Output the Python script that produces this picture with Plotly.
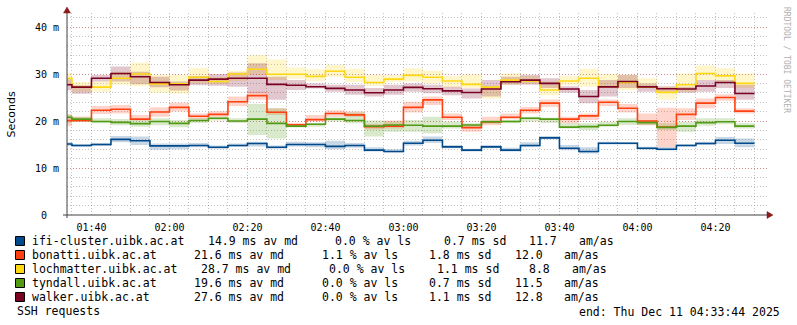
import plotly.graph_objects as go
import pandas as pd

# ---------------- data (5-minute steps, first starts 01:30) ----------------
START = "2025-12-11 01:30:00"
STEP = "5min"
N = 36

hosts = ["ifi-cluster.uibk.ac.at", "bonatti.uibk.ac.at", "lochmatter.uibk.ac.at",
         "tyndall.uibk.ac.at", "walker.uibk.ac.at"]
colors = ["#004a8c", "#ff4010", "#ffd814", "#509a14", "#7a0024"]

ifi_md = [15.1, 14.8, 15.0, 16.1, 15.8, 14.7, 14.7, 14.8, 14.4, 14.8, 15.2, 14.4,
          15.0, 15.0, 14.6, 14.8, 13.8, 13.5, 15.25, 15.9, 14.5, 13.8, 14.5, 13.8,
          14.8, 16.4, 14.2, 13.5, 15.25, 15.25, 14.2, 14.0, 14.8, 15.2, 15.9, 15.25]
ifi_lo = [14.7, 14.5, 14.7, 15.5, 14.9, 13.9, 14.0, 14.4, 14.1, 14.5, 14.6, 14.1,
          14.6, 14.4, 14.0, 14.3, 13.5, 13.3, 14.8, 15.3, 14.2, 13.5, 14.2, 13.5,
          14.4, 16.1, 13.8, 13.1, 15.0, 15.0, 13.9, 13.7, 14.6, 14.9, 15.1, 14.4]
ifi_hi = [15.5, 15.1, 15.3, 16.8, 16.7, 15.2, 15.2, 15.3, 14.8, 15.2, 15.6, 14.8,
          15.6, 15.5, 15.8, 15.3, 14.4, 14.0, 15.8, 16.7, 14.9, 14.1, 14.9, 14.3,
          15.5, 16.8, 14.9, 14.4, 15.6, 15.5, 14.5, 14.4, 15.1, 15.6, 16.6, 16.3]

bon_md = [20.1, 20.1, 22.3, 22.5, 20.4, 21.9, 22.9, 21.0, 21.4, 24.1, 25.4, 21.85,
          19.2, 20.3, 21.6, 21.3, 18.8, 18.9, 22.9, 24.5, 20.8, 18.6, 19.8, 20.8,
          22.3, 23.8, 20.4, 21.1, 24.0, 22.7, 20.0, 18.7, 21.4, 23.8, 25.0, 22.1]
bon_lo = [18.9, 19.8, 21.5, 21.6, 20.1, 20.9, 22.0, 20.35, 20.9, 23.2, 24.5, 21.3,
          18.8, 19.9, 20.9, 20.9, 18.2, 18.4, 21.8, 23.4, 20.2, 17.7, 19.1, 20.35,
          21.6, 23.0, 19.5, 20.2, 23.2, 21.8, 19.1, 14.4, 20.2, 22.7, 24.3, 21.6]
bon_hi = [21.3, 20.9, 23.2, 23.4, 21.3, 22.9, 23.9, 21.6, 22.1, 25.2, 26.2, 22.7,
          19.6, 21.3, 22.3, 22.0, 19.4, 20.1, 24.1, 25.2, 21.6, 19.1, 20.9, 21.6,
          23.0, 24.6, 20.9, 21.6, 24.6, 23.6, 21.6, 22.8, 22.7, 24.8, 25.7, 22.7]

loc_md = [29.1, 27.3, 27.2, 29.1, 30.0, 27.9, 27.9, 29.3, 28.4, 30.0, 31.0, 29.95,
          29.95, 29.5, 30.6, 29.3, 28.2, 28.9, 29.7, 29.3, 28.5, 27.8, 27.2, 28.7,
          28.5, 26.6, 28.5, 29.1, 27.3, 28.2, 27.2, 26.1, 27.7, 30.1, 29.6, 28.0]
loc_lo = [27.8, 26.2, 26.2, 27.7, 27.4, 26.0, 25.8, 28.0, 27.8, 28.5, 29.8, 28.7,
          29.0, 28.5, 29.4, 28.3, 27.5, 28.3, 28.4, 28.0, 27.2, 27.0, 24.8, 27.7,
          27.9, 25.5, 27.7, 27.3, 27.0, 26.6, 27.0, 24.5, 26.2, 28.7, 28.4, 27.0]
loc_hi = [30.2, 28.3, 28.4, 30.5, 32.4, 29.8, 29.8, 31.3, 29.4, 30.7, 34.0, 33.1,
          31.4, 31.0, 31.9, 31.1, 29.8, 29.8, 31.2, 30.7, 29.6, 29.9, 27.5, 30.1,
          29.6, 28.4, 29.6, 31.1, 30.0, 29.8, 29.1, 27.3, 30.1, 31.8, 31.2, 30.1]

tyn_md = [20.8, 20.4, 19.9, 19.7, 19.45, 19.9, 19.5, 20.1, 20.6, 20.0, 20.4, 19.5,
          18.9, 19.3, 20.4, 20.1, 18.9, 19.15, 19.1, 18.9, 18.9, 19.15, 19.85, 19.9,
          20.6, 20.4, 18.7, 18.8, 19.1, 19.9, 19.65, 18.65, 18.9, 19.65, 19.85, 18.9]
tyn_lo = [19.6, 19.8, 19.5, 19.1, 18.8, 19.1, 18.65, 19.6, 20.1, 19.6, 17.0, 16.3,
          18.6, 18.8, 19.9, 19.5, 16.7, 17.7, 17.7, 17.4, 18.4, 18.8, 19.4, 19.5,
          19.9, 19.6, 18.4, 18.1, 18.8, 19.15, 19.15, 18.1, 17.7, 19.0, 19.3, 18.4]
tyn_hi = [21.5, 20.9, 20.6, 20.4, 20.2, 20.6, 20.2, 20.6, 20.9, 20.6, 23.6, 22.7,
          19.3, 19.6, 20.8, 21.8, 20.1, 19.9, 20.2, 20.9, 19.9, 19.5, 20.2, 20.2,
          20.9, 20.7, 19.5, 19.5, 19.85, 20.6, 20.2, 19.5, 19.85, 20.6, 20.6, 19.5]

wal_md = [27.7, 27.2, 29.1, 30.1, 29.4, 28.2, 27.7, 28.7, 28.9, 29.1, 29.1, 27.8,
          27.6, 27.3, 26.95, 26.6, 26.0, 26.6, 27.15, 26.85, 26.4, 26.05, 26.8, 28.35,
          28.7, 28.0, 26.8, 25.2, 27.25, 28.4, 27.25, 26.85, 26.8, 27.45, 28.2, 25.85]
wal_lo = [26.5, 25.8, 28.4, 28.4, 27.8, 27.2, 26.5, 27.6, 27.5, 27.3, 25.9, 24.5,
          26.6, 26.9, 26.2, 25.6, 25.2, 25.6, 26.2, 25.9, 25.5, 24.8, 25.2, 27.7,
          27.7, 27.0, 26.0, 23.8, 25.2, 27.0, 26.2, 26.2, 26.0, 26.2, 27.0, 24.5]
wal_hi = [28.9, 27.6, 29.8, 31.6, 30.5, 29.4, 28.4, 29.6, 30.0, 30.3, 32.3, 29.4,
          28.7, 28.0, 27.7, 27.7, 27.0, 27.7, 28.0, 27.7, 27.3, 26.9, 28.7, 29.4,
          29.8, 29.1, 27.4, 26.6, 28.7, 29.8, 28.0, 27.4, 27.3, 28.7, 28.7, 27.7]

legend_md = ["14.9 ms av md", "21.6 ms av md", "28.7 ms av md", "19.6 ms av md", "27.6 ms av md"]
legend_ls = ["0.0 % av ls", "1.1 % av ls", "0.0 % av ls", "0.0 % av ls", "0.0 % av ls"]
legend_sd = ["0.7 ms sd", "1.8 ms sd", "1.1 ms sd", "0.7 ms sd", "1.1 ms sd"]
legend_am = ["11.7", "12.0", "8.8", "11.5", "12.8"]

y_tickvals = [0, 10, 20, 30, 40]
y_ticktext = ["0\u00a0\u00a0", "10 m", "20 m", "30 m", "40 m"]

medians = [ifi_md, bon_md, loc_md, tyn_md, wal_md]
lows = [ifi_lo, bon_lo, loc_lo, tyn_lo, wal_lo]
highs = [ifi_hi, bon_hi, loc_hi, tyn_hi, wal_hi]

# ---------------- geometry helpers (pixel -> paper) ----------------
W, H = 797, 325
L, R, T, B = 67, 769, 13, 215
def px(x):
    return (x - L) / (R - L)
def py(y):
    return (B - y) / (B - T)

times = pd.date_range(START, periods=N + 1, freq=STEP)

def rgba(hexc, a):
    h = hexc.lstrip("#")
    r, g, b = int(h[0:2], 16), int(h[2:4], 16), int(h[4:6], 16)
    return f"rgba({r},{g},{b},{a})"

fig = go.Figure()

# bands
for name, col, lo, hi in zip(hosts, colors, lows, highs):
    fig.add_trace(go.Scatter(x=times, y=lo + [lo[-1]], mode="lines",
                             line=dict(width=0, shape="hv"), hoverinfo="skip",
                             showlegend=False))
    fig.add_trace(go.Scatter(x=times, y=hi + [hi[-1]], mode="lines",
                             line=dict(width=0, shape="hv"), fill="tonexty",
                             fillcolor=rgba(col, 0.22), hoverinfo="skip",
                             showlegend=False))
# median lines
for name, col, md in zip(hosts, colors, medians):
    fig.add_trace(go.Scatter(x=times, y=md + [md[-1]], mode="lines", name=name,
                             line=dict(width=1.6, color=col, shape="hv"),
                             showlegend=False))

mono = "DejaVu Sans Mono"
grid_minor = "rgba(143,143,143,0.55)"
grid_major = "rgba(222,80,80,0.5)"

fig.update_layout(
    width=W, height=H,
    margin=dict(l=L, r=W - R, t=T, b=H - B, pad=0),
    paper_bgcolor="white", plot_bgcolor="white",
    showlegend=False,
    xaxis=dict(
        type="date",
        range=["2025-12-11 01:33:44", "2025-12-11 04:33:44"],
        tick0="2025-12-11 01:40:00", dtick=20 * 60 * 1000,
        tickformat="%H:%M",
        ticks="outside", ticklen=3, tickcolor="rgba(0,0,0,0)",
        tickfont=dict(family=mono, size=10, color="black"),
        showgrid=True, gridcolor=grid_major, griddash="1px,2px", gridwidth=1,
        minor=dict(dtick=5 * 60 * 1000, showgrid=True, gridcolor=grid_minor,
                   griddash="1px,2px", gridwidth=1, ticks=""),
        showline=False, zeroline=False, fixedrange=True,
    ),
    yaxis=dict(
        range=[0, (B - T) / 4.7],
        tickvals=y_tickvals, ticktext=y_ticktext,
        ticks="outside", ticklen=5, tickcolor="rgba(0,0,0,0)",
        tickfont=dict(family=mono, size=10, color="black"),
        showgrid=True, gridcolor=grid_major, griddash="1px,2px", gridwidth=1,
        minor=dict(dtick=2, showgrid=True, gridcolor=grid_minor,
                   griddash="1px,2px", gridwidth=1, ticks=""),
        showline=False, zeroline=False, fixedrange=True,
    ),
)

shapes = []
axis_col = "#404040"
arrow_col = "#8b1a1a"
# axes
shapes.append(dict(type="line", xref="paper", yref="paper",
                   x0=px(63), x1=px(768), y0=py(215), y1=py(215),
                   line=dict(color=axis_col, width=1)))
shapes.append(dict(type="line", xref="paper", yref="paper",
                   x0=px(67), x1=px(67), y0=py(218), y1=py(12),
                   line=dict(color=axis_col, width=1)))
# arrows
shapes.append(dict(type="path", xref="paper", yref="paper",
                   path=f"M {px(767)} {py(211.5)} L {px(773)} {py(215)} L {px(767)} {py(218.5)} Z",
                   fillcolor=arrow_col, line=dict(color=arrow_col, width=0.5)))
shapes.append(dict(type="path", xref="paper", yref="paper",
                   path=f"M {px(63.5)} {py(13)} L {px(67)} {py(7)} L {px(70.5)} {py(13)} Z",
                   fillcolor=arrow_col, line=dict(color=arrow_col, width=0.5)))

annotations = []
row_y = [241, 255, 269, 283, 297]
col_x = [
    [207.3, 334.3, 442.7, 528.3, 577.7],
    [193.3, 321.0, 428.3, 514.3, 563.3],
    [200.0, 328.3, 435.7, 528.3, 570.7],
    [193.3, 321.0, 428.3, 514.3, 563.3],
    [193.3, 321.0, 428.3, 514.3, 563.3],
]
lfont = dict(family=mono, size=11.5, color="black")
for i, (name, col) in enumerate(zip(hosts, colors)):
    y = row_y[i]
    shapes.append(dict(type="rect", xref="paper", yref="paper",
                       x0=px(15.5), x1=px(24.5), y0=py(y - 4.5), y1=py(y + 4.5),
                       fillcolor=col, line=dict(color="black", width=1)))
    items = [name, legend_md[i], legend_ls[i], legend_sd[i], legend_am[i], "am/as"]
    xs = [31] + col_x[i]
    for txt, x in zip(items, xs):
        annotations.append(dict(xref="paper", yref="paper", x=px(x), y=py(y),
                                text=txt, showarrow=False, xanchor="left",
                                yanchor="middle", font=lfont, borderpad=0))

annotations.append(dict(xref="paper", yref="paper", x=px(16), y=py(311),
                        text="SSH requests", showarrow=False, xanchor="left",
                        yanchor="middle", font=lfont, borderpad=0))
annotations.append(dict(xref="paper", yref="paper", x=px(578.3), y=py(311.5),
                        text="end: Thu Dec 11 04:33:44 2025", showarrow=False,
                        xanchor="left", yanchor="middle", font=lfont, borderpad=0))
annotations.append(dict(xref="paper", yref="paper", x=px(11), y=py(114.5),
                        text="Seconds", showarrow=False, textangle=-90,
                        xanchor="center", yanchor="middle",
                        font=dict(family="DejaVu Sans", size=11, color="black"),
                        borderpad=0))
annotations.append(dict(xref="paper", yref="paper", x=px(787), y=py(60),
                        text="RRDTOOL / TOBI OETIKER", showarrow=False, textangle=90,
                        xanchor="center", yanchor="middle",
                        font=dict(family=mono, size=8, color="#b0b0b0"),
                        borderpad=0))

fig.update_layout(shapes=shapes, annotations=annotations)
fig.write_html("out.html")
